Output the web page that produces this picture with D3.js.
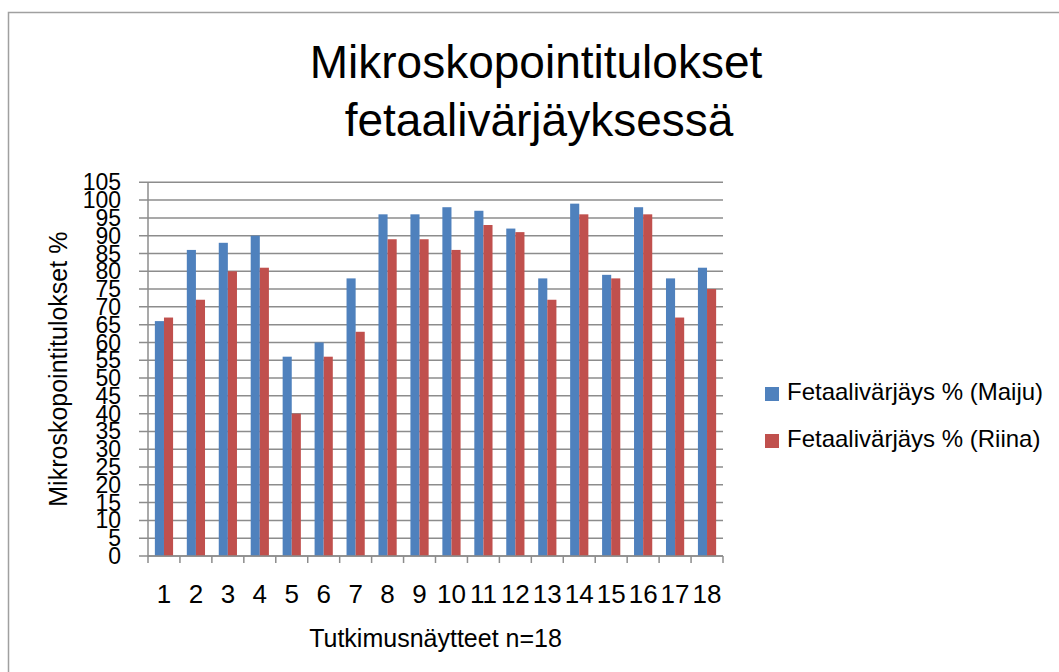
<!DOCTYPE html>
<html>
<head>
<meta charset="utf-8">
<script src="https://cdn.jsdelivr.net/npm/d3@7"></script>
<style>
  body { margin: 0; background: #fff; }
  text { font-family: "Liberation Sans", Arial, sans-serif; fill: #000; }
</style>
</head>
<body>
<div id="chart"></div>
<script>
var width = 1059,
    height = 672;

// data
var samples = ["1","2","3","4","5","6","7","8","9","10","11","12","13","14","15","16","17","18"];
var seriesNames = ["Fetaalivärjäys % (Maiju)", "Fetaalivärjäys % (Riina)"];
var maiju = [66, 86, 88, 90, 56, 60, 78, 96, 96, 98, 97, 92, 78, 99, 79, 98, 78, 81];
var riina = [67, 72, 80, 81, 40, 56, 63, 89, 89, 86, 93, 91, 72, 96, 78, 96, 67, 75];
var yTicks = [0, 5, 10, 15, 20, 25, 30, 35, 40, 45, 50, 55, 60, 65, 70, 75, 80, 85, 90, 95, 100, 105];
var colors = ["#4F81BD", "#C0504D"];

var plot = { left: 148, right: 723, top: 182.3, bottom: 556 };

var svg = d3.select("#chart").append("svg")
    .attr("width", width)
    .attr("height", height);

// chart border (top and left edge visible)
svg.append("path")
    .attr("d", "M8.5," + height + "V12.5H" + width)
    .attr("fill", "none")
    .attr("stroke", "#a0a0a0")
    .attr("stroke-width", 1.5);

var x0 = d3.scaleBand()
    .domain(samples)
    .range([plot.left, plot.right])
    .paddingInner(0.43)
    .paddingOuter(0.215);

var x1 = d3.scaleBand()
    .domain([0, 1])
    .range([0, x0.bandwidth()]);

var y = d3.scaleLinear()
    .domain([0, 105])
    .range([plot.bottom, plot.top]);

// gridlines
svg.append("g")
    .selectAll("line")
    .data(yTicks)
    .enter().append("line")
    .attr("x1", plot.left - 9)
    .attr("x2", plot.right)
    .attr("y1", function(d) { return y(d); })
    .attr("y2", function(d) { return y(d); })
    .attr("stroke", "#8c8c8c")
    .attr("stroke-width", 1.5);

// bars
var rows = samples.map(function(s, i) { return { name: s, values: [maiju[i], riina[i]] }; });

var group = svg.append("g")
    .selectAll("g")
    .data(rows)
    .enter().append("g")
    .attr("transform", function(d) { return "translate(" + x0(d.name) + ",0)"; });

group.selectAll("rect")
    .data(function(d) { return d.values; })
    .enter().append("rect")
    .attr("x", function(d, i) { return x1(i); })
    .attr("y", function(d) { return y(d); })
    .attr("width", x1.bandwidth())
    .attr("height", function(d) { return y(0) - y(d); })
    .attr("fill", function(d, i) { return colors[i]; });

// axes lines
svg.append("line")
    .attr("x1", plot.left).attr("x2", plot.left)
    .attr("y1", plot.top).attr("y2", plot.bottom)
    .attr("stroke", "#8c8c8c").attr("stroke-width", 1.5);

svg.append("line")
    .attr("x1", plot.left).attr("x2", plot.right)
    .attr("y1", plot.bottom).attr("y2", plot.bottom)
    .attr("stroke", "#8c8c8c").attr("stroke-width", 1.5);

// x tick marks at category boundaries
var step = x0.step();
svg.append("g")
    .selectAll("line")
    .data(d3.range(samples.length + 1))
    .enter().append("line")
    .attr("x1", function(i) { return plot.left + i * step; })
    .attr("x2", function(i) { return plot.left + i * step; })
    .attr("y1", plot.bottom)
    .attr("y2", plot.bottom + 7)
    .attr("stroke", "#8c8c8c")
    .attr("stroke-width", 1.5);

// y tick labels
svg.append("g")
    .selectAll("text")
    .data(yTicks)
    .enter().append("text")
    .attr("x", 121)
    .attr("y", function(d) { return y(d); })
    .attr("dy", "0.35em")
    .attr("text-anchor", "end")
    .style("font-size", "23px")
    .text(function(d) { return d; });

// x tick labels
svg.append("g")
    .selectAll("text")
    .data(samples)
    .enter().append("text")
    .attr("x", function(d) { return x0(d) + x0.bandwidth() / 2; })
    .attr("y", 603)
    .attr("text-anchor", "middle")
    .style("font-size", "26px")
    .text(function(d) { return d; });

// titles
svg.append("text")
    .attr("x", 536)
    .attr("y", 78)
    .attr("text-anchor", "middle")
    .style("font-size", "46px")
    .text("Mikroskopointitulokset");

svg.append("text")
    .attr("x", 539)
    .attr("y", 136)
    .attr("text-anchor", "middle")
    .style("font-size", "46px")
    .text("fetaalivärjäyksessä");

svg.append("text")
    .attr("x", (plot.left + plot.right) / 2)
    .attr("y", 647)
    .attr("text-anchor", "middle")
    .style("font-size", "25px")
    .text("Tutkimusnäytteet n=18");

svg.append("text")
    .attr("transform", "translate(67," + (plot.top + plot.bottom) / 2 + ") rotate(-90)")
    .attr("text-anchor", "middle")
    .style("font-size", "25px")
    .text("Mikroskopointitulokset %");

// legend
var legend = svg.append("g")
    .selectAll("g")
    .data(seriesNames)
    .enter().append("g")
    .attr("transform", function(d, i) { return "translate(765," + (387 + i * 47) + ")"; });

legend.append("rect")
    .attr("width", 14)
    .attr("height", 14)
    .attr("fill", function(d, i) { return colors[i]; });

legend.append("text")
    .attr("x", 22)
    .attr("y", 13)
    .style("font-size", "24px")
    .text(function(d) { return d; });
</script>
</body>
</html>
